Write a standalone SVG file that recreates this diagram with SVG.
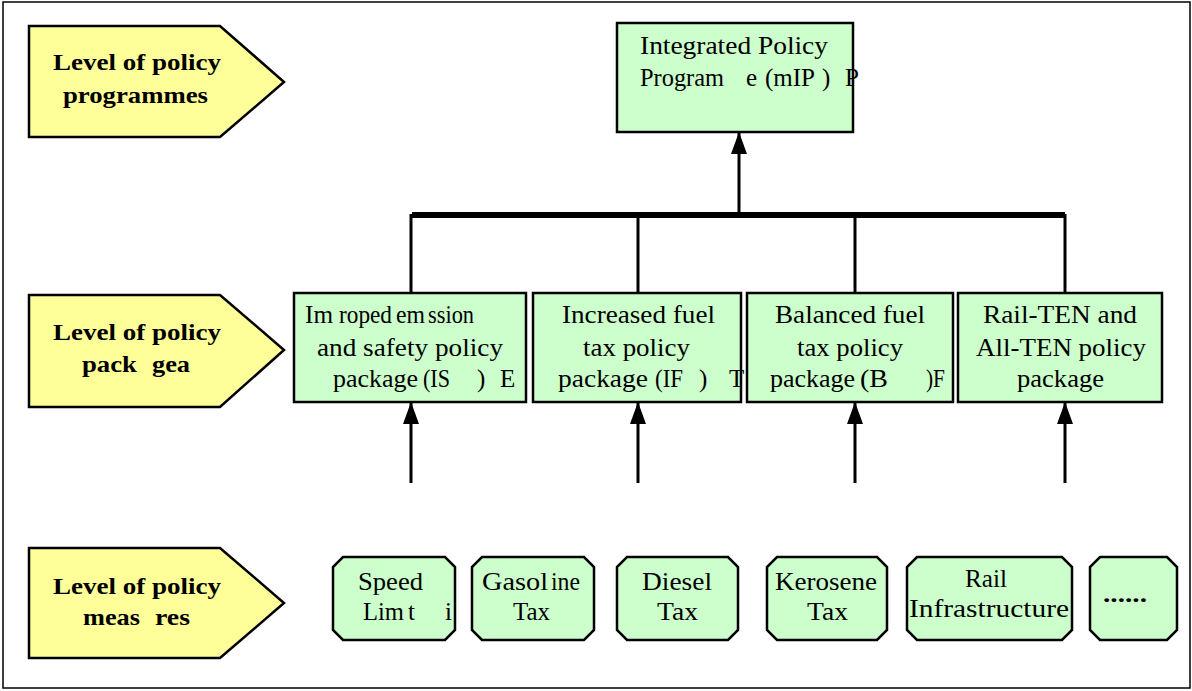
<svg xmlns="http://www.w3.org/2000/svg" width="1192" height="691" viewBox="0 0 1192 691">
<defs>
<style>
.lvl{fill:#FFFF99;stroke:#000;stroke-width:2.5}
.box{fill:#CCFFCC;stroke:#000;stroke-width:2.5}
.bt{font-family:"Liberation Serif",serif;font-weight:bold;font-size:24px;fill:#000}
.t{font-family:"Liberation Serif",serif;font-size:25px;fill:#000}
.ln{stroke:#000;stroke-width:3;fill:none}
</style>
<marker id="ah" viewBox="0 0 22 16" refX="21" refY="8" markerWidth="22" markerHeight="16" markerUnits="userSpaceOnUse" orient="auto">
<path d="M0 0 L22 8 L0 16 Z" fill="#000"/>
</marker>
</defs>
<rect x="0" y="0" width="1192" height="691" fill="#fff"/>
<rect x="3" y="2" width="1187" height="686" fill="none" stroke="#000" stroke-width="1.5"/>

<g id="level-programmes">
<polygon class="lvl" points="29,26 220,26 284,82 220,137 29,137"/>
<text class="bt" x="53" y="70" textLength="168" lengthAdjust="spacingAndGlyphs">Level of policy</text>
<text class="bt" x="63" y="103" textLength="145" lengthAdjust="spacingAndGlyphs">programmes</text>
</g>
<g id="level-packages">
<polygon class="lvl" points="29,295 220,295 284,350 220,407 29,407"/>
<text class="bt" x="53" y="340" textLength="168" lengthAdjust="spacingAndGlyphs">Level of policy</text>
<text class="bt" x="82" y="372" textLength="55" lengthAdjust="spacingAndGlyphs">pack</text>
<text class="bt" x="152" y="372" textLength="38" lengthAdjust="spacingAndGlyphs">gea</text>
</g>
<g id="level-measures">
<polygon class="lvl" points="29,548 220,548 284,603 220,658 29,658"/>
<text class="bt" x="53" y="594" textLength="168" lengthAdjust="spacingAndGlyphs">Level of policy</text>
<text class="bt" x="83" y="625" textLength="57" lengthAdjust="spacingAndGlyphs">meas</text>
<text class="bt" x="155" y="625" textLength="35" lengthAdjust="spacingAndGlyphs">res</text>
</g>

<g id="connectors">
<line class="ln" x1="739" y1="214" x2="739" y2="133" marker-end="url(#ah)"/>
<line x1="412" y1="215" x2="1065" y2="215" stroke="#000" stroke-width="6"/>
<line class="ln" x1="411" y1="214" x2="411" y2="293"/>
<line class="ln" x1="638" y1="214" x2="638" y2="293"/>
<line class="ln" x1="855" y1="214" x2="855" y2="293"/>
<line class="ln" x1="1065" y1="214" x2="1065" y2="293"/>
<line class="ln" x1="411" y1="483" x2="411" y2="403" marker-end="url(#ah)"/>
<line class="ln" x1="638" y1="483" x2="638" y2="403" marker-end="url(#ah)"/>
<line class="ln" x1="855" y1="483" x2="855" y2="403" marker-end="url(#ah)"/>
<line class="ln" x1="1065" y1="483" x2="1065" y2="403" marker-end="url(#ah)"/>
</g>

<g id="ipp">
<rect class="box" x="617" y="23" width="236" height="109"/>
<text class="t" x="640" y="54" textLength="188" lengthAdjust="spacingAndGlyphs">Integrated Policy</text>
<text class="t" x="640" y="86" textLength="84" lengthAdjust="spacingAndGlyphs">Program</text>
<text class="t" x="746" y="86">e</text>
<text class="t" x="765" y="86" textLength="50" lengthAdjust="spacingAndGlyphs">(mIP</text>
<text class="t" x="822" y="86">)</text>
<text class="t" x="845" y="86">P</text>
</g>

<g id="ise">
<rect class="box" x="294" y="293" width="232" height="109"/>
<text class="t" x="305" y="323" textLength="28" lengthAdjust="spacingAndGlyphs">Im</text>
<text class="t" x="339" y="323" textLength="53" lengthAdjust="spacingAndGlyphs">roped</text>
<text class="t" x="396" y="323" textLength="29" lengthAdjust="spacingAndGlyphs">em</text>
<text class="t" x="428" y="323" textLength="46" lengthAdjust="spacingAndGlyphs">ssion</text>
<text class="t" x="317" y="356" textLength="186" lengthAdjust="spacingAndGlyphs">and safety policy</text>
<text class="t" x="333" y="387" textLength="85" lengthAdjust="spacingAndGlyphs">package</text>
<text class="t" x="423" y="387" textLength="27" lengthAdjust="spacingAndGlyphs">(IS</text>
<text class="t" x="477" y="387">)</text>
<text class="t" x="500" y="387">E</text>
</g>
<g id="ift">
<rect class="box" x="533" y="293" width="208" height="109"/>
<text class="t" x="562" y="323" textLength="153" lengthAdjust="spacingAndGlyphs">Increased fuel</text>
<text class="t" x="583" y="356" textLength="107" lengthAdjust="spacingAndGlyphs">tax policy</text>
<text class="t" x="558" y="387" textLength="90" lengthAdjust="spacingAndGlyphs">package</text>
<text class="t" x="655" y="387" textLength="28" lengthAdjust="spacingAndGlyphs">(IF</text>
<text class="t" x="699" y="387">)</text>
<text class="t" x="729" y="387">T</text>
</g>
<g id="bft">
<rect class="box" x="747" y="293" width="206" height="109"/>
<text class="t" x="775" y="323" textLength="150" lengthAdjust="spacingAndGlyphs">Balanced fuel</text>
<text class="t" x="797" y="356" textLength="106" lengthAdjust="spacingAndGlyphs">tax policy</text>
<text class="t" x="770" y="387" textLength="85" lengthAdjust="spacingAndGlyphs">package</text>
<text class="t" x="860" y="387" textLength="28" lengthAdjust="spacingAndGlyphs">(B</text>
<text class="t" x="926" y="387" textLength="19" lengthAdjust="spacingAndGlyphs">)F</text>
</g>
<g id="rail-ten">
<rect class="box" x="958" y="293" width="204" height="109"/>
<text class="t" x="983" y="323" textLength="154" lengthAdjust="spacingAndGlyphs">Rail-TEN and</text>
<text class="t" x="976" y="356" textLength="170" lengthAdjust="spacingAndGlyphs">All-TEN policy</text>
<text class="t" x="1017" y="387" textLength="87" lengthAdjust="spacingAndGlyphs">package</text>
</g>

<g id="speed-limit">
<polygon class="box" points="343,557 445,557 455,567 455,630 445,640 343,640 333,630 333,567"/>
<text class="t" x="358" y="590" textLength="65" lengthAdjust="spacingAndGlyphs">Speed</text>
<text class="t" x="363" y="620" textLength="41" lengthAdjust="spacingAndGlyphs">Lim</text>
<text class="t" x="408" y="620">t</text>
<text class="t" x="445" y="620">i</text>
</g>
<g id="gasoline-tax">
<polygon class="box" points="482,557 584,557 594,567 594,630 584,640 482,640 472,630 472,567"/>
<text class="t" x="482" y="590" textLength="66" lengthAdjust="spacingAndGlyphs">Gasol</text>
<text class="t" x="551" y="590" textLength="29" lengthAdjust="spacingAndGlyphs">ine</text>
<text class="t" x="513" y="620" textLength="37" lengthAdjust="spacingAndGlyphs">Tax</text>
</g>
<g id="diesel-tax">
<polygon class="box" points="627,557 728,557 738,567 738,630 728,640 627,640 617,630 617,567"/>
<text class="t" x="642" y="590" textLength="70" lengthAdjust="spacingAndGlyphs">Diesel</text>
<text class="t" x="657" y="620" textLength="41" lengthAdjust="spacingAndGlyphs">Tax</text>
</g>
<g id="kerosene-tax">
<polygon class="box" points="777,557 877,557 887,567 887,630 877,640 777,640 767,630 767,567"/>
<text class="t" x="775" y="590" textLength="102" lengthAdjust="spacingAndGlyphs">Kerosene</text>
<text class="t" x="807" y="620" textLength="41" lengthAdjust="spacingAndGlyphs">Tax</text>
</g>
<g id="rail-infrastructure">
<polygon class="box" points="917,557 1062,557 1072,567 1072,630 1062,640 917,640 907,630 907,567"/>
<text class="t" x="965" y="587" textLength="42" lengthAdjust="spacingAndGlyphs">Rail</text>
<text class="t" x="909" y="617" textLength="160" lengthAdjust="spacingAndGlyphs">Infrastructure</text>
</g>
<g id="more">
<polygon class="box" points="1100,557 1167,557 1177,567 1177,630 1167,640 1100,640 1090,630 1090,567"/>
<text class="bt" x="1103" y="602" textLength="44" lengthAdjust="spacingAndGlyphs">......</text>
</g>
</svg>
